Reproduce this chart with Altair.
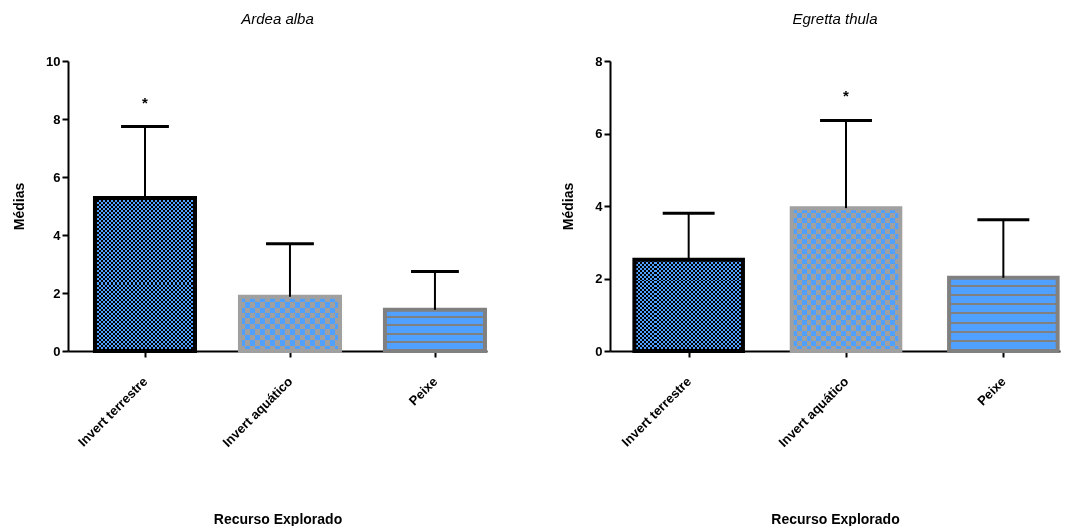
import altair as alt
import pandas as pd

# ---- data ----
categories = ["Invert terrestre", "Invert aquático", "Peixe"]
positions = [1, 2, 3]
species = ["Ardea alba", "Egretta thula"]
alba_means = [5.28, 1.87, 1.42]
alba_sd = [2.46, 1.83, 1.32]
alba_sig = ["*", "", ""]
thula_means = [2.52, 3.94, 2.02]
thula_sd = [1.28, 2.42, 1.60]
thula_sig = ["", "*", ""]
alba_yticks = [0, 2, 4, 6, 8, 10]
thula_yticks = [0, 2, 4, 6, 8]

# ---- styles ----
FONT = "Liberation Sans"
BLUE = "#50a0ff"
GRAY_CHECK = "#a0a0a0"
GRAY_STRIPE = "#808080"
BAR_HALF = 0.345
CAP_HALF = 0.165
PLOT_H = 290


def hard_stripes(n, ca, cb, frac_a, vertical):
    stops = []
    for k in range(n):
        o0 = k / n
        o1 = (k + frac_a) / n
        o2 = (k + 1) / n
        stops += [
            {"offset": o0, "color": ca},
            {"offset": o1, "color": ca},
            {"offset": o1, "color": cb},
            {"offset": o2, "color": cb},
        ]
    return {
        "gradient": "linear",
        "x1": 0, "y1": 0,
        "x2": 0 if vertical else 1,
        "y2": 1 if vertical else 0,
        "stops": stops,
    }


def panel(title, means, sds, sigs, yticks, xdom, width):
    df = pd.DataFrame({
        "pos": positions, "cat": categories,
        "mean": means, "sd": sds, "sig": sigs,
    })
    ymax = yticks[-1]
    px_x = width / (xdom[1] - xdom[0])
    px_y = PLOT_H / ymax
    label_expr = "[" + ",".join("'" + c + "'" for c in categories) + "][datum.value - 1]"

    xscale = alt.Scale(domain=xdom, nice=False, zero=False)
    yscale = alt.Scale(domain=[0, ymax], nice=False)
    xaxis = alt.Axis(
        values=positions, labelExpr=label_expr, title="Recurso Explorado",
        labelAngle=-45, labelAlign="right", labelBaseline="middle",
        labelFontSize=13, labelFontWeight="bold", labelPadding=22,
        titleFontSize=14, titleFontWeight="bold", titleY=172,
        titleBaseline="alphabetic", grid=False,
    )
    yaxis = alt.Axis(
        values=yticks, title="Médias", titleFontSize=14, titleFontWeight="bold",
        labelFontSize=13, labelFontWeight="bold", titlePadding=19, grid=False,
    )

    def X(f):
        return alt.X(f + ":Q", scale=xscale, axis=xaxis)

    def Y(f):
        return alt.Y(f + ":Q", scale=yscale, axis=yaxis)

    base = alt.Chart(df).transform_calculate(
        x0=f"datum.pos - {BAR_HALF}", x1=f"datum.pos + {BAR_HALF}",
        top="datum.mean + datum.sd", zero="0",
        c0=f"datum.pos - {CAP_HALF}", c1=f"datum.pos + {CAP_HALF}",
    )
    barenc = dict(x=X("x0"), x2="x1:Q", y=Y("mean"), y2="zero:Q")

    layers = []
    w_px = 2 * BAR_HALF * px_x
    for i, m in enumerate(means):
        h_px = m * px_y
        b = base.transform_filter(alt.datum.pos == positions[i])
        if i < 2:
            cell = 2 if i == 0 else 5
            nx = max(1, round(w_px / (2 * cell)))
            ny = max(1, round(h_px / (2 * cell)))
            layers.append(b.mark_bar(fill=hard_stripes(nx, "#ffffff", "#000000", 0.5, False)).encode(**barenc))
            layers.append(b.mark_bar(fill=hard_stripes(ny, "#ffffff", "#000000", 0.5, True), blend="difference").encode(**barenc))
            if i == 0:
                layers.append(b.mark_bar(fill=BLUE, blend="multiply").encode(**barenc))
            else:
                layers.append(b.mark_bar(fill="#f0005f", blend="multiply").encode(**barenc))
                layers.append(b.mark_bar(fill=BLUE, blend="difference").encode(**barenc))
            stroke = "#000000" if i == 0 else GRAY_CHECK
        else:
            ny = max(1, round(h_px / 9))
            layers.append(b.mark_bar(fill=hard_stripes(ny, BLUE, GRAY_STRIPE, 7 / 9, True)).encode(**barenc))
            stroke = GRAY_STRIPE
        layers.append(b.mark_bar(filled=False, stroke=stroke, strokeWidth=4).encode(**barenc))

    err = base.mark_rule(color="black", strokeWidth=2).encode(
        x=X("pos"), y=Y("mean"), y2="top:Q")
    cap = base.mark_rule(color="black", strokeWidth=3).encode(
        x=X("c0"), x2="c1:Q", y=Y("top"))
    star = base.mark_text(fontSize=15, fontWeight="bold", dy=-24, baseline="middle", font=FONT).encode(
        x=X("pos"), y=Y("top"), text="sig:N")
    layers += [err, cap, star]

    return alt.layer(*layers).properties(
        width=width, height=PLOT_H,
        title=alt.TitleParams(title, fontSize=15, fontStyle="italic", fontWeight="normal",
                              offset=28, anchor="middle", font=FONT),
    )


left = panel(species[0], alba_means, alba_sd, alba_sig, alba_yticks, [0.469, 3.359], 419)
right = panel(species[1], thula_means, thula_sd, thula_sig, thula_yticks, [0.5, 3.36], 450)

chart = alt.hconcat(left, right, spacing=74).properties(
    padding={"left": 4, "top": 4, "right": 5, "bottom": 0}
).configure_view(stroke=None).configure_axis(
    domainColor="black", domainWidth=2, tickColor="black", tickWidth=2, tickSize=6,
    labelColor="black", titleColor="black", labelFont=FONT, titleFont=FONT,
).configure_text(font=FONT)

chart.save("out.html", embed_options={"renderer": "svg", "actions": False})
